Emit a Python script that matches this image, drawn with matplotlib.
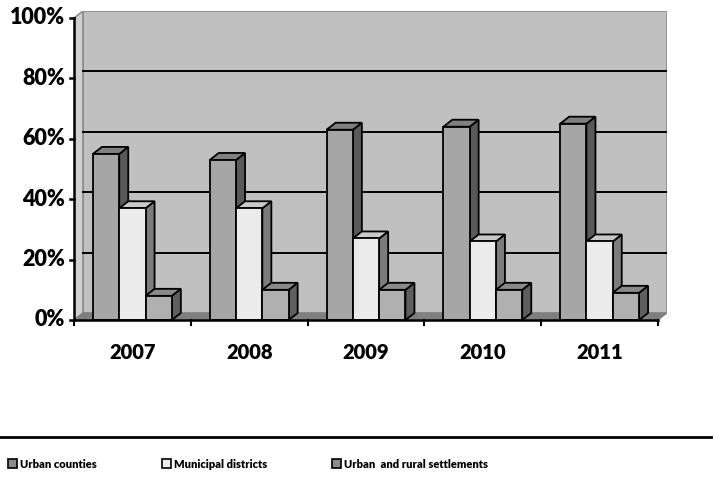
import matplotlib
matplotlib.use("Agg")
import matplotlib.pyplot as plt
from matplotlib.patches import Polygon, Rectangle, Patch
from matplotlib.lines import Line2D

plt.rcParams['font.family'] = ['Lato', 'DejaVu Sans']
plt.rcParams['font.weight'] = 'bold'

years = ["2007", "2008", "2009", "2010", "2011"]
series_names = ["Urban counties", "Municipal districts", "Urban  and rural settlements"]
urban_counties = [55, 53, 63, 64, 65]
municipal_districts = [37, 37, 27, 26, 26]
rural_settlements = [8, 10, 10, 10, 9]
series = [urban_counties, municipal_districts, rural_settlements]

# front / top / side shades for each series
shades = [
    ("#a6a6a6", "#808080", "#595959"),
    ("#ebebeb", "#c9c9c9", "#7c7c7c"),
    ("#b0b0b0", "#8a8a8a", "#5f5f5f"),
]

W, H = 713, 488
fig = plt.figure(figsize=(W / 100, H / 100), dpi=100)

# plot area in pixels: front axis at x=74, floor at y=320, wall top at y=11
left_px, right_px, bottom_px, top_px = 74, 667, 320, 11
ax = fig.add_axes([left_px / W, (H - bottom_px) / H,
                   (right_px - left_px) / W, (bottom_px - top_px) / H])

ncat = len(years)
cat_px = 116.8
dx = 9 / cat_px          # depth offset in category units
dy = 7 / 3.02            # depth offset in percent units
ax.set_xlim(0, ncat + dx)
ax.set_ylim(0, 100 + dy)
ax.axis("off")

# walls and floor
ax.add_patch(Rectangle((dx, dy), ncat, 100, facecolor="#c0c0c0",
                       edgecolor="#8c8c8c", lw=1.2, zorder=0))
ax.add_patch(Polygon([(0, 0), (dx, dy), (dx, 100 + dy), (0, 100)],
                     closed=True, facecolor="#d0d0d0", edgecolor="#8c8c8c",
                     lw=1.2, zorder=0))
ax.add_patch(Polygon([(0, 0), (ncat, 0), (ncat + dx, dy), (dx, dy)],
                     closed=True, facecolor="#7f7f7f", edgecolor="#7f7f7f",
                     lw=0.8, zorder=0))
for g in [20, 40, 60, 80]:
    ax.plot([dx, ncat + dx], [g + dy, g + dy], color="black", lw=1.4, zorder=1)

# 3D bars
bar_w = 26.3 / cat_px
start = (1 - 3 * bar_w) / 2
for i in range(ncat):
    for s, vals in enumerate(series):
        v = vals[i]
        x0 = i + start + s * bar_w
        x1 = x0 + bar_w
        front, top, side = shades[s]
        ax.add_patch(Polygon([(x1, 0), (x1 + dx, dy), (x1 + dx, v + dy), (x1, v)],
                             closed=True, facecolor=side, edgecolor="black",
                             lw=1.3, zorder=2, joinstyle="miter"))
        ax.add_patch(Polygon([(x0, v), (x1, v), (x1 + dx, v + dy), (x0 + dx, v + dy)],
                             closed=True, facecolor=top, edgecolor="black",
                             lw=1.3, zorder=2, joinstyle="miter"))
        ax.add_patch(Rectangle((x0, 0), bar_w, v, facecolor=front,
                               edgecolor="black", lw=1.3, zorder=2))

# front axes
ax.plot([0, 0], [0, 100], color="black", lw=1.8, zorder=3, clip_on=False)
ax.plot([0, ncat], [0, 0], color="black", lw=1.8, zorder=3, clip_on=False)
tick_x = 4 / cat_px
for g in range(0, 101, 20):
    ax.plot([-tick_x, 0], [g, g], color="black", lw=1.8, clip_on=False)
    ax.text(-0.075, g, f"{g}%", ha="right", va="center", fontsize=15.5,
            fontweight="heavy")
for i in range(ncat + 1):
    ax.plot([i, i], [0, -5 / 3.02], color="black", lw=1.5, clip_on=False)
for i, yr in enumerate(years):
    ax.text(i + 0.5, -10.8, yr, ha="center", va="center", fontsize=14.5,
            fontweight="heavy")

# separator line above the legend
fig.add_artist(Line2D([0, 1], [(H - 437) / H, (H - 437) / H],
                      color="black", lw=2))

handles = [Patch(facecolor=shades[s][0], edgecolor="black", lw=1.2)
           for s in range(3)]
handles[0].set_facecolor("#8c8c8c")
handles[2].set_facecolor("#8c8c8c")
fig.legend(handles, series_names, loc="center left",
           bbox_to_anchor=(8 / W, (H - 464) / H), ncol=3, frameon=False,
           handlelength=0.8, handleheight=0.9,
           handletextpad=0.25, columnspacing=5.9, borderaxespad=0,
           borderpad=0, prop={"weight": "heavy", "size": 8})

fig.savefig("out.png", dpi=100)
